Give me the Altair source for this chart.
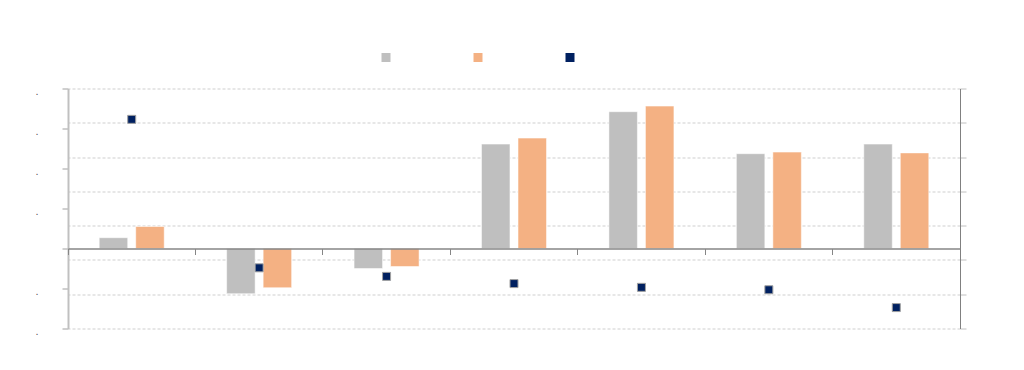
import altair as alt
import pandas as pd

categories = ["1", "2", "3", "4", "5", "6", "7"]
series_names = ["Série 1", "Série 2", "Série 3"]
series_a = [0.27, -1.13, -0.50, 2.61, 3.42, 2.37, 2.61]
series_b = [0.55, -0.98, -0.45, 2.76, 3.56, 2.41, 2.39]
series_c = [3.10, -1.23, -1.48, -1.69, -1.80, -1.87, -2.39]
left_ticks = [-2, -1, 0, 1, 2, 3, 4]
right_ticks = [-3, -2, -1, 0, 1, 2, 3, 4]
colors = ["#BFBFBF", "#F4B183", "#002060"]

bars_df = pd.DataFrame({
    "cat": categories * 2,
    "series": [series_names[0]] * len(categories) + [series_names[1]] * len(categories),
    "value": series_a + series_b,
})
pts_df = pd.DataFrame({
    "cat": categories,
    "series": [series_names[2]] * len(categories),
    "value": series_c,
})

color = alt.Color(
    "series:N",
    scale=alt.Scale(domain=series_names, range=colors),
    legend=alt.Legend(
        orient="none", legendX=313, legendY=-36, direction="horizontal",
        title=None, labelExpr="''", symbolType="square", symbolSize=81,
        columnPadding=78, padding=0, symbolStrokeWidth=0,
    ),
)

x = alt.X(
    "cat:N", sort=categories,
    scale=alt.Scale(paddingInner=0, paddingOuter=0),
    axis=alt.Axis(
        title=None, labels=False, orient="bottom", offset=-80, bandPosition=0,
        tickSize=6, tickColor="#868686", domainColor="#868686", domainWidth=1.5,
        grid=False, zindex=1,
    ),
)

bars = alt.Chart(bars_df).mark_bar(stroke="white", strokeWidth=1, strokeOpacity=0.5).encode(
    x=x,
    xOffset=alt.XOffset("series:N", sort=series_names[:2],
                        scale=alt.Scale(paddingInner=0.22, paddingOuter=0.855)),
    y=alt.Y(
        "value:Q",
        scale=alt.Scale(domain=[-2, 4], nice=False, zero=False),
        axis=alt.Axis(
            values=left_ticks, title=None, grid=False,
            labelExpr="datum.value == 0 ? '' : '.'",
            labelPadding=24, labelFontSize=11, labelColor="#595959", labelOffset=3,
            tickSize=6, tickColor="#a0a0a0", domainColor="#c0c0c0", domainWidth=2,
        ),
    ),
    color=color,
)

pts = alt.Chart(pts_df).mark_point(
    shape="square", filled=True, size=64, stroke="#a0a0a0", strokeWidth=1, opacity=1
).encode(
    x=x,
    y=alt.Y(
        "value:Q",
        scale=alt.Scale(domain=[-3, 4], nice=False, zero=False),
        axis=alt.Axis(
            orient="right", values=right_ticks, labels=False, title=None,
            grid=True, gridDash=[3, 2], gridColor="#cfcfcf",
            tickColor="#c0c0c0", tickSize=6, domainColor="#808080",
        ),
    ),
    color=color,
)

chart = alt.layer(bars, pts).resolve_scale(y="independent").properties(
    width=892, height=240,
    padding={"left": 60, "top": 80.5, "right": 40, "bottom": 30},
    autosize=alt.AutoSizeParams(type="none"),
).configure_view(stroke=None)

chart.save("out.html", embed_options={"renderer": "svg", "actions": False})
